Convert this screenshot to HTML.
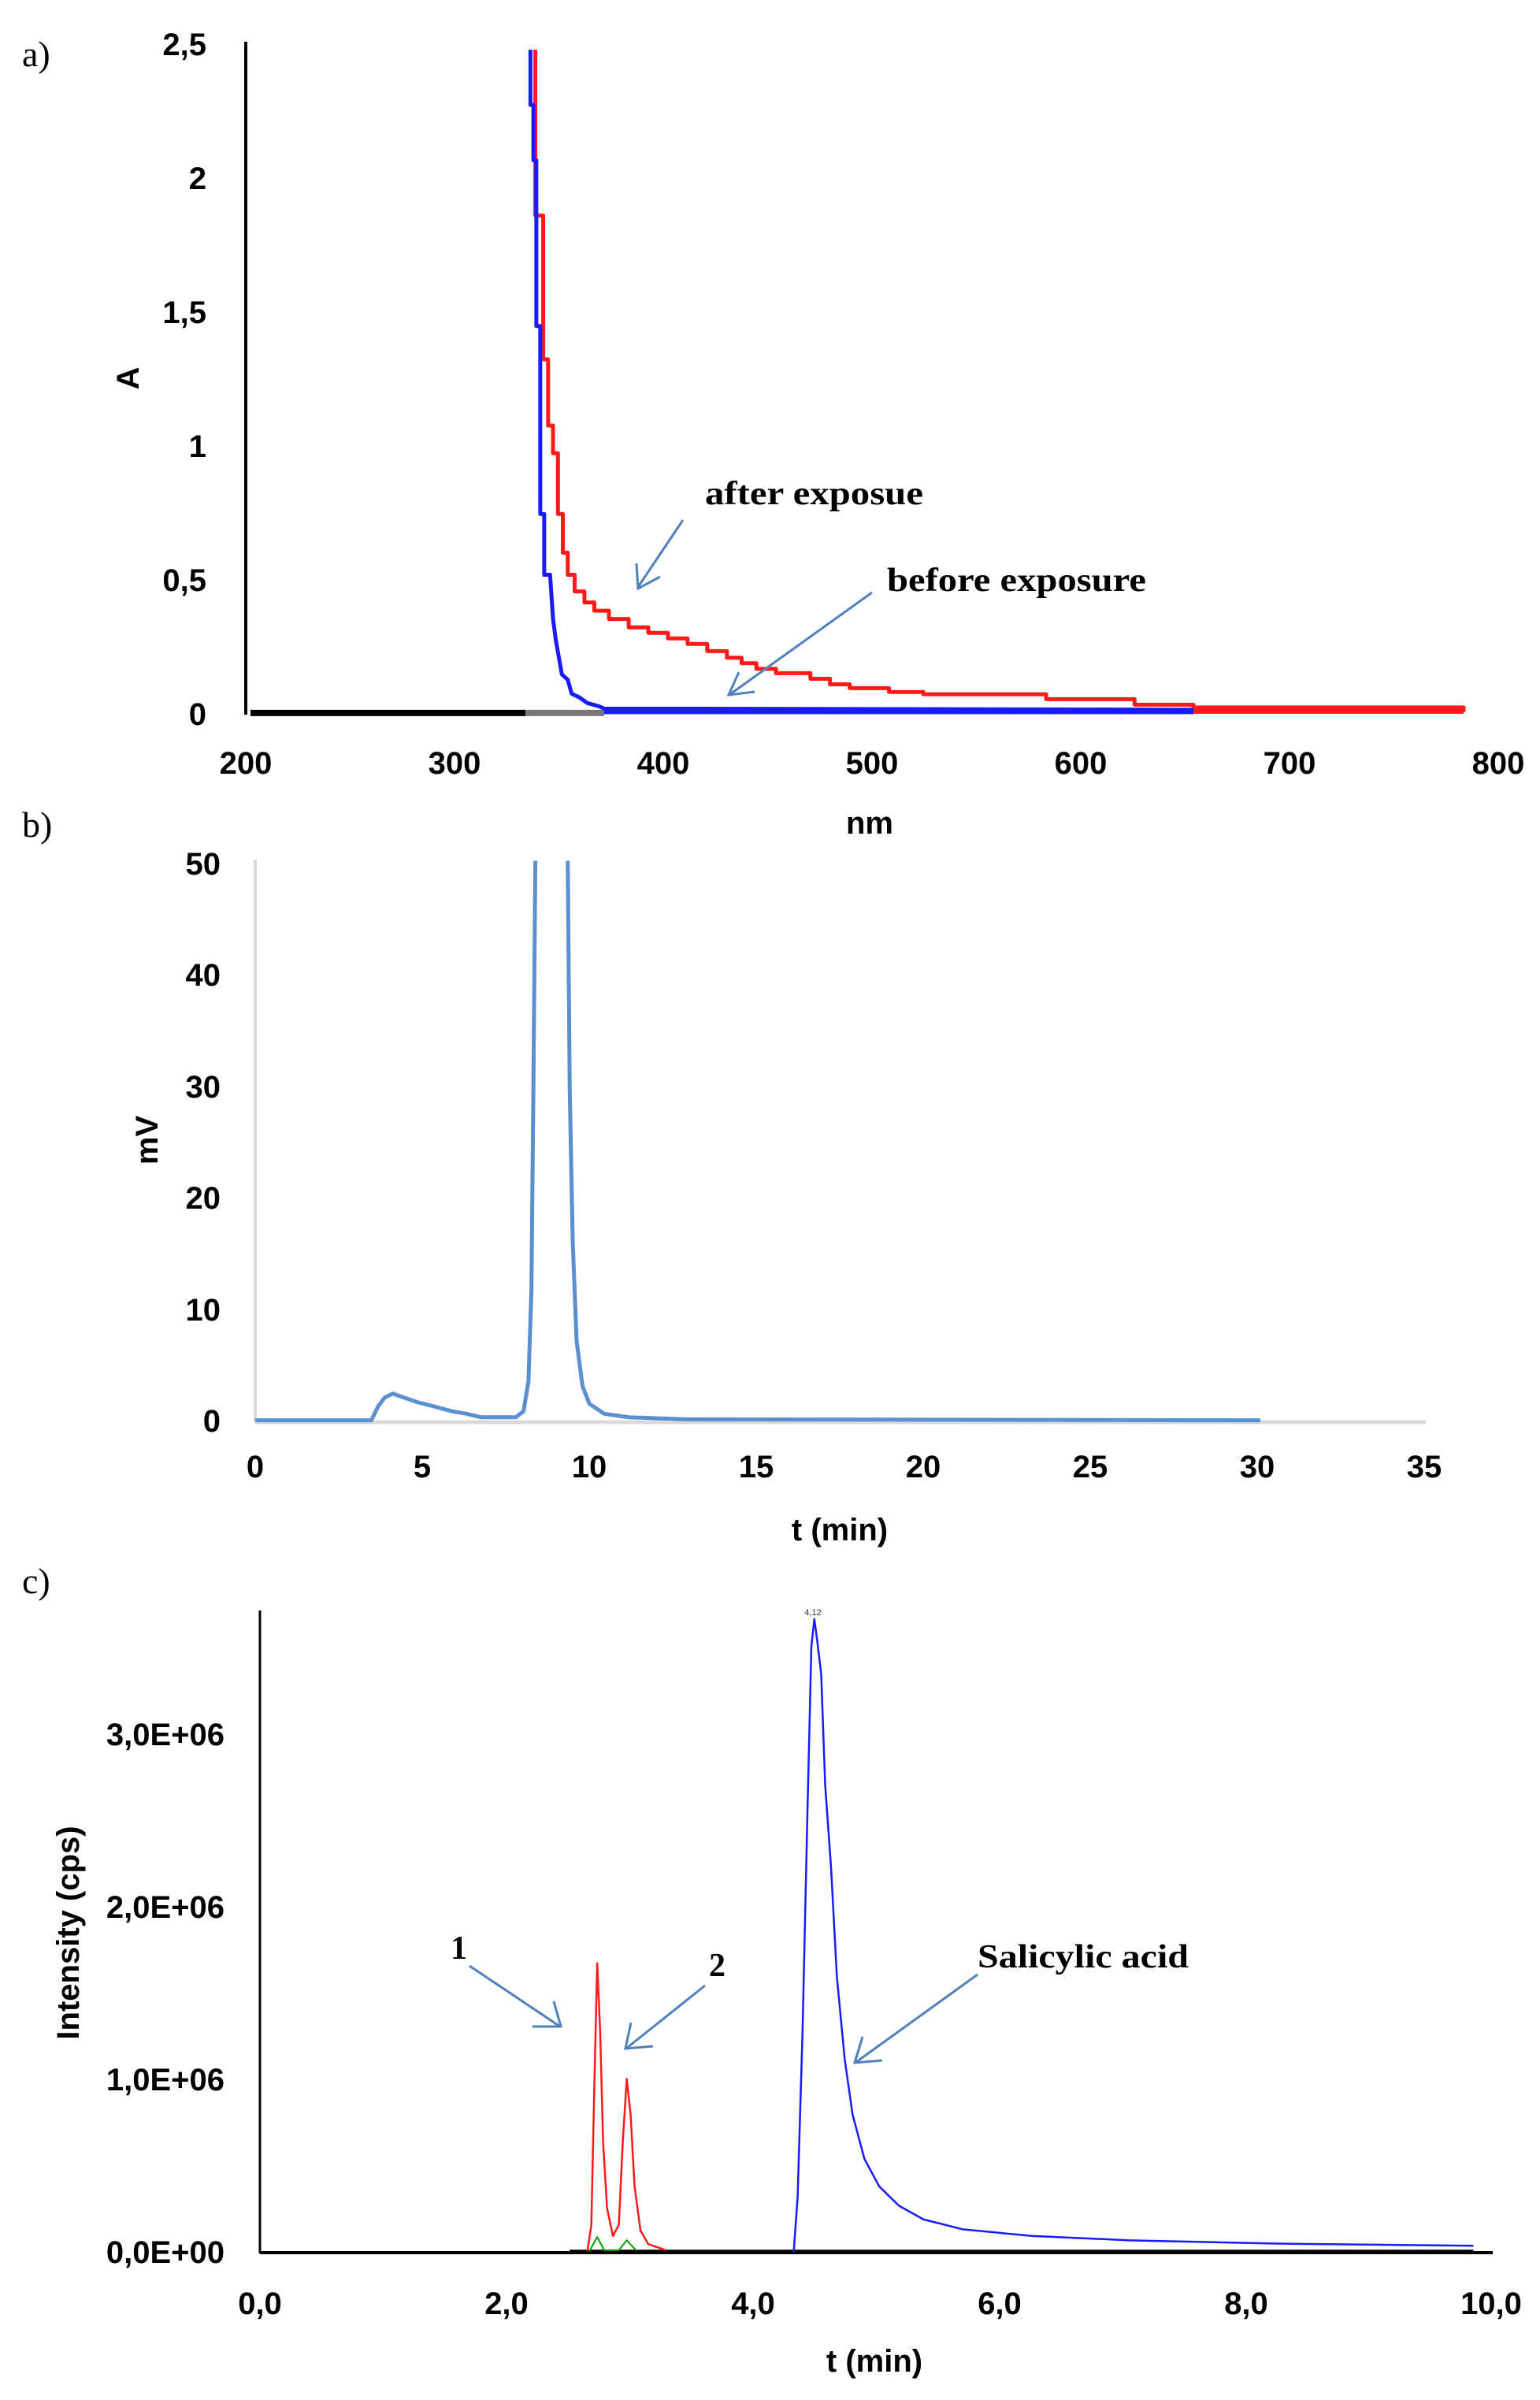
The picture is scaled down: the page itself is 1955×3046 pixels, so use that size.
<!DOCTYPE html>
<html><head><meta charset="utf-8"><style>
html,body{margin:0;padding:0;background:#fff;}
svg{display:block;}
.t{font-family:"Liberation Sans Narrow","Liberation Sans",sans-serif;font-weight:bold;font-size:40px;fill:#000;}
.s{font-family:"Liberation Serif",serif;font-weight:bold;font-size:42px;fill:#000;}
.p{font-family:"Liberation Serif",serif;font-size:46px;fill:#000;}
.ln{fill:none;vector-effect:non-scaling-stroke;stroke-linejoin:round;}
</style></head><body>
<svg width="1955" height="3046" viewBox="0 0 1955 3046" xmlns="http://www.w3.org/2000/svg">
<rect width="1955" height="3046" fill="#fff"/>

<!-- Panel a -->
<text class="p" x="28" y="84">a)</text>
<line x1="312" y1="53" x2="312" y2="907" stroke="#000" stroke-width="4"/>
<g class="t" text-anchor="end">
<text x="262" y="70">2,5</text>
<text x="262" y="240">2</text>
<text x="262" y="410">1,5</text>
<text x="262" y="580">1</text>
<text x="262" y="750">0,5</text>
<text x="262" y="920">0</text>
</g>
<g class="t" text-anchor="middle">
<text x="312" y="982">200</text>
<text x="577" y="982">300</text>
<text x="842" y="982">400</text>
<text x="1107" y="982">500</text>
<text x="1372" y="982">600</text>
<text x="1637" y="982">700</text>
<text x="1902" y="982">800</text>
<text x="1104" y="1058">nm</text>
</g>
<text class="t" transform="translate(176,480) rotate(-90)" text-anchor="middle">A</text>
<g transform="matrix(1.247,0,0,0.7015,0,0)">
<polyline class="ln" stroke="#000" stroke-width="8" points="255,1290 535,1290"/>
<polyline class="ln" stroke="#777" stroke-width="8" points="535,1290 615,1290"/>
<polyline class="ln" stroke="#ff1a1a" stroke-width="5" points="545,90 545,390 553,390 553,650 558,650 558,770 563,770 563,820 568,820 568,930 573,930 573,1000 578,1000 578,1040 585,1040 585,1070 595,1070 595,1090 605,1090 605,1105 620,1105 620,1120 640,1120 640,1135 660,1135 660,1145 680,1145 680,1155 700,1155 700,1165 720,1165 720,1178 740,1178 740,1190 755,1190 755,1200 770,1200 770,1210 790,1210 790,1218 825,1218 825,1228 845,1228 845,1238 865,1238 865,1245 905,1245 905,1252 940,1252 940,1256 1065,1256 1065,1265 1155,1265 1155,1275 1215,1275 1215,1280 1490,1280 1490,1288"/>
<polyline class="ln" stroke="#1a1aff" stroke-width="5" points="540,90 540,190 543,190 543,290 546,290 546,590 550,590 550,930 554,930 554,1040 560,1040 563,1120 566,1160 572,1220 578,1230 582,1255 590,1262 598,1272 610,1278 615,1282 1215,1284"/>
<polyline class="ln" stroke="#ff1a1a" stroke-width="6" points="1215,1287 1490,1287"/>
<polyline class="ln" stroke="#1a1aff" stroke-width="7" points="615,1287 1215,1287"/>
</g>
<text class="s" x="895" y="640" textLength="277" lengthAdjust="spacingAndGlyphs">after exposue</text>
<text class="s" x="1126" y="750" textLength="329" lengthAdjust="spacingAndGlyphs">before exposure</text>
<g stroke="#4f81bd" stroke-width="3" fill="none">
<line x1="867" y1="660" x2="810" y2="745"/>
<polyline points="808,715 810,747 838,732"/>
<line x1="1107" y1="752" x2="927" y2="881"/>
<polyline points="938,853 925,882 958,878"/>
</g>

<!-- Panel b -->
<text class="p" x="28" y="1062">b)</text>
<line x1="324" y1="1091" x2="324" y2="1805" stroke="#d9d9d9" stroke-width="4"/>
<line x1="324" y1="1805" x2="1810" y2="1805" stroke="#d9d9d9" stroke-width="5"/>
<g class="t" text-anchor="end">
<text x="280" y="1110">50</text>
<text x="280" y="1251">40</text>
<text x="280" y="1393">30</text>
<text x="280" y="1534">20</text>
<text x="280" y="1676">10</text>
<text x="280" y="1817">0</text>
</g>
<g class="t" text-anchor="middle">
<text x="324" y="1875">0</text>
<text x="536" y="1875">5</text>
<text x="748" y="1875">10</text>
<text x="960" y="1875">15</text>
<text x="1172" y="1875">20</text>
<text x="1384" y="1875">25</text>
<text x="1596" y="1875">30</text>
<text x="1808" y="1875">35</text>
<text x="1066" y="1955">t (min)</text>
</g>
<text class="t" transform="translate(200,1447) rotate(-90)" text-anchor="middle">mV</text>
<g transform="matrix(1.247,0,0,0.638,0,1000)">
<polyline class="ln" stroke="#5b8fd0" stroke-width="5" points="260,1258 378,1258 385,1230 392,1212 400,1205 410,1212 425,1222 445,1232 460,1240 475,1245 490,1252 525,1252 533,1240 538,1180 541,1000 543,600 545,145"/>
<polyline class="ln" stroke="#5b8fd0" stroke-width="5" points="578,145 580,600 583,900 587,1100 593,1190 600,1225 615,1245 640,1252 700,1256 1283,1258"/>
</g>

<!-- Panel c -->
<text class="p" x="28" y="2022">c)</text>
<line x1="330" y1="2044" x2="330" y2="2860" stroke="#000" stroke-width="3"/>
<line x1="330" y1="2859" x2="1895" y2="2859" stroke="#000" stroke-width="4"/>
<g class="t" text-anchor="end" font-size="38">
<text x="285" y="2215">3,0E+06</text>
<text x="285" y="2434">2,0E+06</text>
<text x="285" y="2653">1,0E+06</text>
<text x="285" y="2872">0,0E+00</text>
</g>
<g class="t" text-anchor="middle">
<text x="330" y="2937">0,0</text>
<text x="643" y="2937">2,0</text>
<text x="956" y="2937">4,0</text>
<text x="1269" y="2937">6,0</text>
<text x="1582" y="2937">8,0</text>
<text x="1893" y="2937">10,0</text>
<text x="1110" y="3010">t (min)</text>
</g>
<text class="t" transform="translate(100,2453) rotate(-90)" text-anchor="middle" style="font-family:'Liberation Sans',sans-serif" font-size="38">Intensity (cps)</text>
<text x="1032" y="2050" font-family="Liberation Sans,sans-serif" font-size="11" text-anchor="middle" fill="#333">4,12</text>
<g transform="matrix(1.247,0,0,0.699,0,1950)">
<polyline class="ln" stroke="#000" stroke-width="4" points="580,1298 1500,1298"/>
<polyline class="ln" stroke="#00a000" stroke-width="2" points="600,1298 608,1272 615,1296 630,1296 638,1278 648,1297"/>
<polyline class="ln" stroke="#ff1a1a" stroke-width="2.5" points="598,1298 602,1250 605,1000 608,775 611,900 614,1100 618,1220 624,1270 630,1250 634,1100 638,985 642,1050 646,1180 652,1260 660,1285 678,1296"/>
<polyline class="ln" stroke="#1a1aff" stroke-width="2.5" points="808,1300 812,1200 817,900 822,500 826,200 829,150 832,190 836,250 840,450 846,600 852,800 860,950 868,1050 880,1130 895,1180 915,1215 940,1240 980,1258 1050,1270 1150,1278 1300,1284 1500,1288"/>
</g>
<text class="s" x="572" y="2486">1</text>
<text class="s" x="900" y="2508">2</text>
<text class="s" x="1241" y="2497" textLength="268" lengthAdjust="spacingAndGlyphs">Salicylic acid</text>
<g stroke="#4f81bd" stroke-width="3" fill="none">
<line x1="596" y1="2495" x2="711" y2="2572"/>
<polyline points="676,2572 712,2572 703,2540"/>
<line x1="895" y1="2520" x2="796" y2="2599"/>
<polyline points="801,2567 794,2600 829,2597"/>
<line x1="1241" y1="2506" x2="1087" y2="2617"/>
<polyline points="1095,2585 1085,2618 1120,2615"/>
</g>
</svg>
</body></html>
